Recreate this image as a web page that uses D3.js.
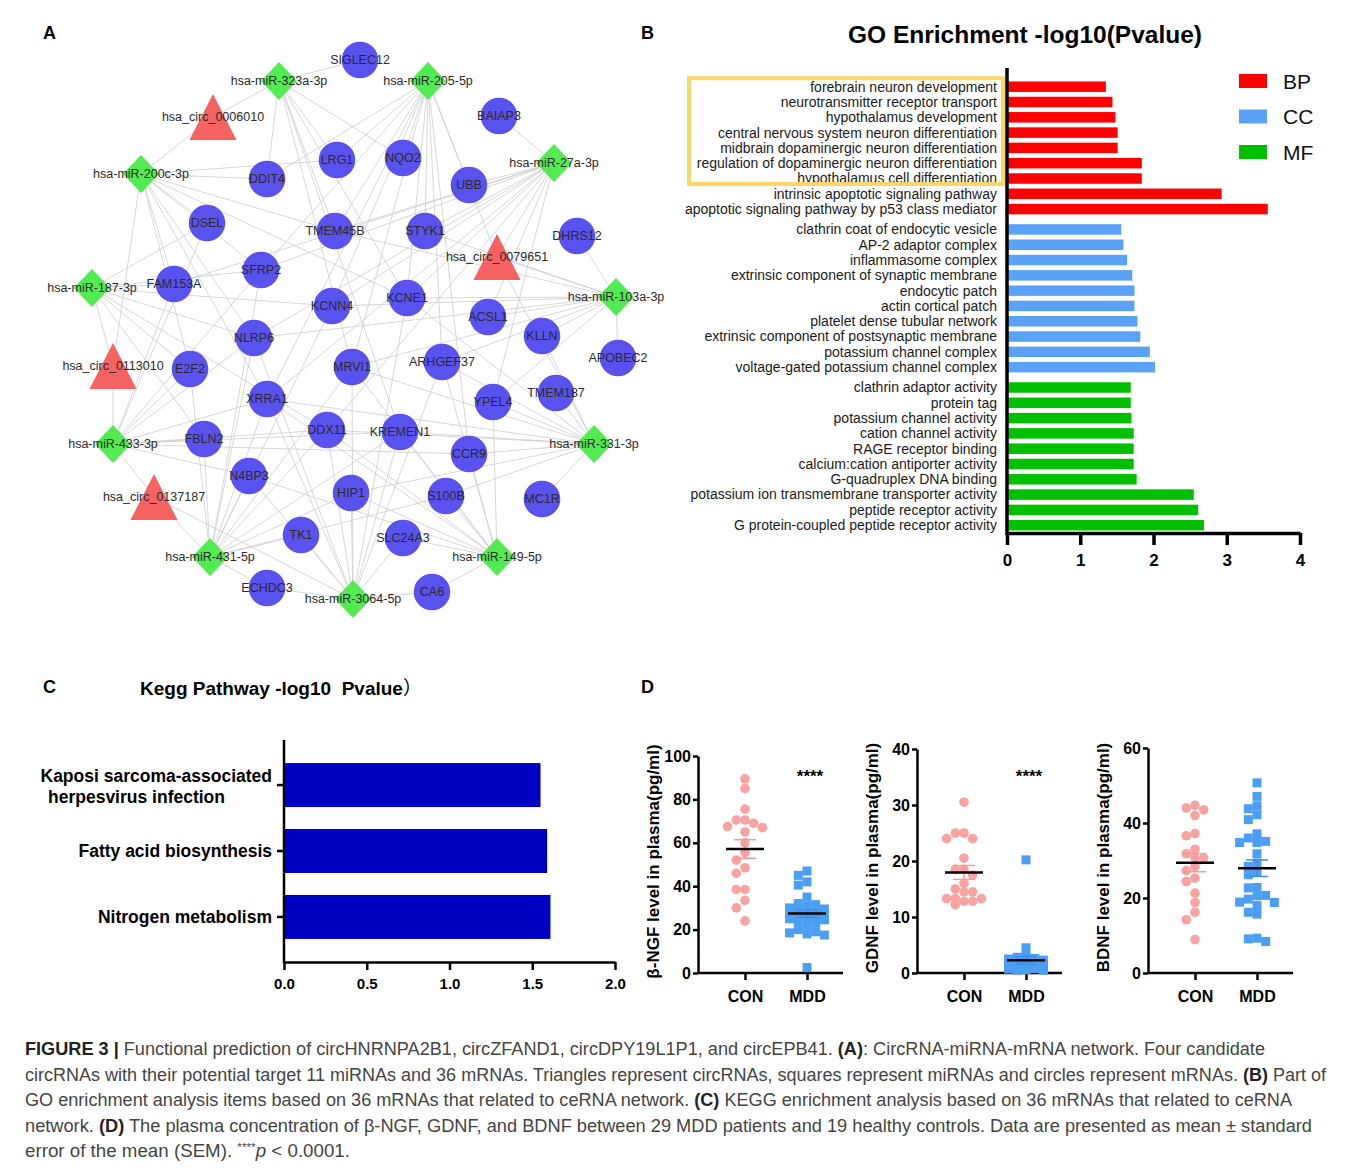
<!DOCTYPE html>
<html>
<head>
<meta charset="utf-8">
<script src="https://cdn.jsdelivr.net/npm/d3@7"></script>
<style>
  body { margin: 0; background: #fff; }
  svg { display: block; font-family: "Liberation Sans", Arial, sans-serif; }
  .axis path, .axis line { stroke: #000; }
</style>
</head>
<body>
<div id="fig"></div>
<script>
// ---------- panel A : ceRNA network ----------
const circNames = ['hsa_circ_0006010', 'hsa_circ_0079651', 'hsa_circ_0113010', 'hsa_circ_0137187'];
const mirnaNames = ['hsa-miR-323a-3p', 'hsa-miR-205-5p', 'hsa-miR-27a-3p', 'hsa-miR-200c-3p', 'hsa-miR-187-3p',
  'hsa-miR-103a-3p', 'hsa-miR-433-3p', 'hsa-miR-331-3p', 'hsa-miR-431-5p', 'hsa-miR-149-5p', 'hsa-miR-3064-5p'];
const mrnaNames = ['SIGLEC12', 'BAIAP3', 'LRG1', 'NQO2', 'DDIT4', 'UBB', 'DSEL', 'TMEM45B', 'STYK1', 'DHRS12',
  'SFRP2', 'FAM153A', 'KCNN4', 'KCNE1', 'ACSL1', 'KLLN', 'NLRP6', 'APOBEC2', 'E2F2', 'MRVI1', 'ARHGEF37',
  'XRRA1', 'YPEL4', 'TMEM187', 'DDX11', 'KREMEN1', 'FBLN2', 'CCR9', 'N4BP3', 'HIP1', 'S100B', 'MC1R',
  'TK1', 'SLC24A3', 'ECHDC3', 'CA6'];

// miRNA -> targets (mRNAs and circRNAs)
const miRTargets = {
  'hsa-miR-323a-3p': ['SIGLEC12', 'LRG1', 'TMEM45B', 'DDIT4', 'KCNE1', 'MRVI1', 'NQO2', 'KREMEN1', 'hsa_circ_0006010'],
  'hsa-miR-205-5p': ['LRG1', 'NQO2', 'UBB', 'STYK1', 'TMEM45B', 'KCNE1', 'KCNN4', 'SFRP2', 'DDIT4', 'MRVI1', 'ARHGEF37', 'CCR9', 'XRRA1', 'hsa_circ_0079651'],
  'hsa-miR-27a-3p': ['BAIAP3', 'UBB', 'STYK1', 'TMEM45B', 'KCNE1', 'KCNN4', 'SFRP2', 'FAM153A', 'ACSL1', 'YPEL4', 'NLRP6', 'DDX11', 'XRRA1', 'hsa_circ_0079651'],
  'hsa-miR-200c-3p': ['DDIT4', 'LRG1', 'DSEL', 'FAM153A', 'SFRP2', 'TMEM45B', 'NLRP6', 'E2F2', 'XRRA1', 'KCNE1', 'hsa_circ_0006010', 'hsa_circ_0113010'],
  'hsa-miR-187-3p': ['FAM153A', 'DSEL', 'SFRP2', 'NLRP6', 'E2F2', 'FBLN2', 'KCNN4', 'DDX11', 'hsa_circ_0113010'],
  'hsa-miR-103a-3p': ['DHRS12', 'APOBEC2', 'ACSL1', 'KLLN', 'KCNE1', 'ARHGEF37', 'YPEL4', 'MRVI1', 'KCNN4', 'TMEM45B', 'STYK1', 'NLRP6', 'hsa_circ_0079651'],
  'hsa-miR-433-3p': ['E2F2', 'FBLN2', 'NLRP6', 'SFRP2', 'FAM153A', 'DSEL', 'DDX11', 'KREMEN1', 'CCR9', 'XRRA1', 'N4BP3', 'hsa_circ_0113010', 'hsa_circ_0137187'],
  'hsa-miR-331-3p': ['TMEM187', 'YPEL4', 'KLLN', 'ARHGEF37', 'CCR9', 'KREMEN1', 'DDX11', 'MC1R', 'MRVI1', 'XRRA1', 'HIP1', 'S100B', 'KCNE1', 'hsa_circ_0079651'],
  'hsa-miR-431-5p': ['N4BP3', 'FBLN2', 'XRRA1', 'E2F2', 'NLRP6', 'TK1', 'ECHDC3', 'HIP1', 'MRVI1', 'DDX11', 'KCNN4', 'SFRP2', 'S100B', 'KREMEN1', 'hsa_circ_0137187'],
  'hsa-miR-149-5p': ['CCR9', 'S100B', 'KREMEN1', 'SLC24A3', 'CA6', 'ARHGEF37', 'MRVI1', 'DDX11', 'N4BP3', 'XRRA1', 'HIP1', 'YPEL4'],
  'hsa-miR-3064-5p': ['HIP1', 'SLC24A3', 'CA6', 'TK1', 'DDX11', 'KREMEN1', 'XRRA1', 'NLRP6', 'ECHDC3', 'MRVI1', 'ARHGEF37', 'KCNE1', 'N4BP3', 'hsa_circ_0137187']
};

// node layout exported from the network tool (layout units)
const nodeLayout = {
  'hsa_circ_0006010': [183, 87], 'hsa_circ_0079651': [467, 227], 'hsa_circ_0113010': [83, 336], 'hsa_circ_0137187': [124, 467],
  'hsa-miR-323a-3p': [249, 51], 'hsa-miR-205-5p': [398, 51], 'hsa-miR-27a-3p': [524, 133], 'hsa-miR-200c-3p': [111, 144],
  'hsa-miR-187-3p': [62, 258], 'hsa-miR-103a-3p': [586, 267], 'hsa-miR-433-3p': [83, 414], 'hsa-miR-331-3p': [564, 414],
  'hsa-miR-431-5p': [180, 527], 'hsa-miR-149-5p': [467, 527], 'hsa-miR-3064-5p': [323, 569],
  'SIGLEC12': [330, 30], 'BAIAP3': [469, 86], 'LRG1': [307, 130], 'NQO2': [373, 128], 'DDIT4': [237, 149],
  'UBB': [439, 155], 'DSEL': [177, 193], 'TMEM45B': [305, 201], 'STYK1': [395, 201], 'DHRS12': [547, 206],
  'SFRP2': [231, 240], 'FAM153A': [144, 254], 'KCNN4': [302, 276], 'KCNE1': [377, 268], 'ACSL1': [458, 287],
  'KLLN': [512, 306], 'NLRP6': [224, 308], 'APOBEC2': [588, 328], 'E2F2': [160, 339], 'MRVI1': [322, 337],
  'ARHGEF37': [412, 332], 'XRRA1': [237, 369], 'YPEL4': [463, 372], 'TMEM187': [526, 363], 'DDX11': [297, 400],
  'KREMEN1': [370, 402], 'FBLN2': [174, 409], 'CCR9': [439, 424], 'N4BP3': [219, 446], 'HIP1': [321, 463],
  'S100B': [416, 466], 'MC1R': [512, 469], 'TK1': [271, 505], 'SLC24A3': [373, 508], 'ECHDC3': [237, 558],
  'CA6': [402, 562]
};

// ---------- panel B : GO enrichment ----------
const goBP = ['forebrain neuron development', 'neurotransmitter receptor transport', 'hypothalamus development',
  'central nervous system neuron differentiation', 'midbrain dopaminergic neuron differentiation',
  'regulation of dopaminergic neuron differentiation', 'hypothalamus cell differentiation',
  'intrinsic apoptotic signaling pathway', 'apoptotic signaling pathway by p53 class mediator'];
const goBPValues = [1.35, 1.44, 1.48, 1.51, 1.51, 1.84, 1.84, 2.93, 3.56];
const goCC = ['clathrin coat of endocytic vesicle', 'AP-2 adaptor complex', 'inflammasome complex',
  'extrinsic component of synaptic membrane', 'endocytic patch', 'actin cortical patch',
  'platelet dense tubular network', 'extrinsic component of postsynaptic membrane',
  'potassium channel complex', 'voltage-gated potassium channel complex'];
const goCCValues = [1.56, 1.59, 1.64, 1.71, 1.74, 1.74, 1.78, 1.82, 1.95, 2.02];
const goMF = ['clathrin adaptor activity', 'protein tag', 'potassium channel activity', 'cation channel activity',
  'RAGE receptor binding', 'calcium:cation antiporter activity', 'G-quadruplex DNA binding',
  'potassium ion transmembrane transporter activity', 'peptide receptor activity',
  'G protein-coupled peptide receptor activity'];
const goMFValues = [1.69, 1.69, 1.70, 1.73, 1.73, 1.73, 1.77, 2.55, 2.61, 2.69];
const goGroups = ['BP', 'CC', 'MF'];
const goTicks = [0, 1, 2, 3, 4];

// ---------- panel C : KEGG ----------
const keggTerms = ['Kaposi sarcoma-associated herpesvirus infection', 'Fatty acid biosynthesis', 'Nitrogen metabolism'];
const keggValues = [1.55, 1.59, 1.61];
const keggTicks = [0, 0.5, 1.0, 1.5, 2.0];

// ---------- panel D : plasma levels ----------
const groups = ['CON', 'MDD'];
const ngfCON = [89.5, 85, 75.5, 70.5, 70.5, 69, 67.5, 67, 65, 60, 55.5, 52, 48.5, 46, 38.5, 38.5, 33.5, 30, 24];
const ngfMDD = [47, 45, 42, 40.5, 35, 32, 31.5, 31, 30, 29.5, 29, 28.5, 28, 27.5, 27, 26.5, 26, 25.5, 25, 24.5,
  24, 23, 22, 20, 19, 18.5, 18, 17.5, 2.5];
const gdnfCON = [30.5, 25, 25, 24, 24, 20.5, 18.5, 18.5, 17.5, 16, 15, 14.5, 14.5, 13.3, 13.3, 13.3, 12.8, 12.8, 12.2];
const gdnfMDD = [20.2, 4.5, 3, 2.8, 2.6, 2.5, 2.3, 2.2, 2, 2, 1.9, 1.8, 1.7, 1.6, 1.5, 1.5, 1.4, 1.3, 1.2, 1.2,
  1.1, 1, 1, 0.9, 0.8, 0.7, 0.6, 0.5, 0.5];
const bdnfCON = [44.7, 44, 43.5, 42, 37.2, 36.6, 33, 31.8, 30.7, 30.7, 28.4, 27.3, 25.3, 24.4, 21.3, 18.8, 16.2, 14.2, 8.9];
const bdnfMDD = [50.7, 47.1, 44.6, 43.8, 42.2, 40.9, 37.1, 36, 35.1, 34.8, 34.8, 31.8, 29.3, 28.4, 26.8, 26.2, 22.8,
  22.7, 20.7, 20.6, 19.7, 18.9, 18.8, 18, 16.2, 15.7, 9.3, 9.1, 8.4];

const svg = d3.select('#fig').append('svg').attr('width', 1357).attr('height', 1170);

function panelLabel(t, x, y) {
  svg.append('text').attr('x', x).attr('y', y).attr('font-size', 18).attr('font-weight', 'bold').text(t);
}
panelLabel('A', 43, 39);
panelLabel('B', 641, 39);
panelLabel('C', 43, 693);
panelLabel('D', 641, 693);

// ===== A =====
const xNet = d3.scaleLinear().domain([0, 620]).range([30, 650]);
const yNet = d3.scaleLinear().domain([0, 600]).range([30, 630]);
const kind = {};
circNames.forEach(n => kind[n] = 'circ');
mirnaNames.forEach(n => kind[n] = 'mir');
mrnaNames.forEach(n => kind[n] = 'mrna');
const nodes = [...mrnaNames, ...mirnaNames, ...circNames].map(n => ({
  name: n, type: kind[n], x: xNet(nodeLayout[n][0]), y: yNet(nodeLayout[n][1])
}));
const byName = new Map(nodes.map(d => [d.name, d]));
const edges = [];
Object.entries(miRTargets).forEach(([m, ts]) => ts.forEach(t => edges.push({ s: byName.get(m), t: byName.get(t) })));

const gA = svg.append('g');
gA.selectAll('line.edge').data(edges).join('line')
  .attr('x1', d => d.s.x).attr('y1', d => d.s.y)
  .attr('x2', d => d.t.x).attr('y2', d => d.t.y)
  .attr('stroke', '#cdcdcd').attr('stroke-width', 0.8);

const nodeG = gA.selectAll('g.node').data(nodes).join('g')
  .attr('transform', d => `translate(${d.x},${d.y})`);
nodeG.filter(d => d.type === 'mrna').append('circle').attr('r', 18.3).attr('fill', '#5a52ef');
nodeG.filter(d => d.type === 'mir').append('path').attr('d', 'M0,-19L18,0L0,19L-18,0Z').attr('fill', '#52ec52');
nodeG.filter(d => d.type === 'circ').append('path').attr('d', 'M0,-23L23.5,23L-23.5,23Z').attr('fill', '#f46262');
nodeG.append('text')
  .attr('text-anchor', 'middle').attr('dy', '0.35em')
  .attr('font-size', 12.5).attr('fill', '#2a2a2a')
  .text(d => d.name);

// ===== B =====
svg.append('text').attr('x', 1025).attr('y', 43).attr('text-anchor', 'middle')
  .attr('font-size', 24.5).attr('font-weight', 'bold').text('GO Enrichment -log10(Pvalue)');

const goColor = d3.scaleOrdinal().domain(goGroups).range(['#ff0000', '#5aa2f8', '#00c000']);
const goRows = [];
[[goBP, goBPValues], [goCC, goCCValues], [goMF, goMFValues]].forEach(([labs, vals], gi) => {
  labs.forEach((l, i) => goRows.push({ label: l, value: vals[i], group: goGroups[gi], slot: goRows.length + gi * 0.33 }));
});
const xGo = d3.scaleLinear().domain([0, 4]).range([1007, 1300]);
const yGo = d3.scaleLinear().domain([0, 1]).range([86.7, 102]);
const barH = 10.5;

svg.append('clipPath').attr('id', 'goclip').append('rect').attr('x', 678).attr('y', 0).attr('width', 400).attr('height', 600);
const gB = svg.append('g');
gB.selectAll('rect.bar').data(goRows).join('rect')
  .attr('x', xGo(0)).attr('y', d => yGo(d.slot) - barH / 2)
  .attr('width', d => xGo(d.value) - xGo(0)).attr('height', barH)
  .attr('fill', d => goColor(d.group));
gB.append('g').attr('clip-path', 'url(#goclip)')
  .selectAll('text').data(goRows).join('text')
  .attr('x', 997).attr('y', d => yGo(d.slot)).attr('dy', '0.35em')
  .attr('text-anchor', 'end').attr('font-size', 14).attr('fill', '#1a1a1a')
  .text(d => d.label);

const xAxisGo = gB.append('g').attr('class', 'axis').attr('transform', 'translate(0,533)')
  .call(d3.axisBottom(xGo).tickValues(goTicks).tickSize(12).tickSizeOuter(0).tickFormat(d3.format('d')));
xAxisGo.selectAll('path,line').attr('stroke-width', 3.5);
xAxisGo.selectAll('text').attr('font-size', 17).attr('font-weight', 'bold').attr('fill', '#000').attr('dy', '1.05em');
gB.append('line').attr('x1', xGo(0)).attr('x2', xGo(0)).attr('y1', 68).attr('y2', 535)
  .attr('stroke', '#000').attr('stroke-width', 3.5);

// highlight box around the neuron-related terms
gB.append('rect')
  .attr('x', 689).attr('y', yGo(0) - 8.5)
  .attr('width', xGo(0) - 4 - 689).attr('height', yGo(6) - yGo(0) + 14)
  .attr('fill', 'none').attr('stroke', '#fbd669').attr('stroke-width', 4);

const legB = gB.selectAll('g.leg').data(goGroups).join('g')
  .attr('transform', (d, i) => `translate(1239,${81 + i * 35.5})`);
legB.append('rect').attr('x', 0).attr('y', -7).attr('width', 28).attr('height', 14).attr('fill', d => goColor(d));
legB.append('text').attr('x', 44).attr('dy', '0.36em').attr('font-size', 21).attr('fill', '#111').text(d => d);

// ===== C =====
const keggTitle = svg.append('text').attr('x', 140).attr('y', 695).attr('font-size', 19).attr('font-weight', 'bold')
  .style('white-space', 'pre');
keggTitle.append('tspan').text('Kegg Pathway -log10  Pvalue');
keggTitle.append('tspan').attr('font-family', '"Noto Sans CJK SC", sans-serif').attr('font-weight', 'normal').text('\uFF09');
const xKegg = d3.scaleLinear().domain([0, 2]).range([284, 615]);
const yKegg = d3.scaleBand().domain(keggTerms).range([740, 962]).paddingInner(0.333).paddingOuter(0.35);
const gC = svg.append('g');
gC.selectAll('rect').data(keggTerms).join('rect')
  .attr('x', xKegg(0)).attr('y', d => yKegg(d))
  .attr('width', (d, i) => xKegg(keggValues[i]) - xKegg(0)).attr('height', yKegg.bandwidth())
  .attr('fill', '#0000c2');
const xAxC = gC.append('g').attr('class', 'axis').attr('transform', 'translate(0,962)')
  .call(d3.axisBottom(xKegg).tickValues(keggTicks).tickSize(8).tickSizeOuter(0).tickFormat(d3.format('.1f')));
xAxC.selectAll('path,line').attr('stroke-width', 2.5);
xAxC.selectAll('text').attr('font-size', 15).attr('font-weight', 'bold').attr('fill', '#000').attr('dy', '1.05em');
const yAxC = gC.append('g').attr('class', 'axis').attr('transform', `translate(${xKegg(0)},0)`)
  .call(d3.axisLeft(yKegg).tickSize(7).tickSizeOuter(0).tickFormat(''));
yAxC.select('.domain').attr('d', `M0,740V963`);
yAxC.selectAll('path,line').attr('stroke-width', 2.5);
keggTerms.forEach((t, i) => {
  const yc = yKegg(t) + yKegg.bandwidth() / 2;
  if (i === 0) {
    gC.append('text').attr('x', 272).attr('y', yc - 9).attr('dy', '0.35em').attr('text-anchor', 'end')
      .attr('font-size', 17.5).attr('font-weight', 'bold').text('Kaposi sarcoma-associated');
    gC.append('text').attr('x', 48).attr('y', yc + 12).attr('dy', '0.35em')
      .attr('font-size', 17.5).attr('font-weight', 'bold').text('herpesvirus infection');
  } else {
    gC.append('text').attr('x', 272).attr('y', yc).attr('dy', '0.35em').attr('text-anchor', 'end')
      .attr('font-size', 17.5).attr('font-weight', 'bold').text(t);
  }
});

// ===== D =====
// simple column swarm: tries offsets 0, -s, +s, -2s ... within maxOff, overlaps when crowded
function swarm(values, y, step, minDist, maxOff) {
  const placed = [];
  const off = new Array(values.length);
  const cands = [0];
  for (let k = 1; k * step <= maxOff + 0.01; k++) cands.push(-k * step, k * step);
  d3.range(values.length).sort((a, b) => values[b] - values[a]).forEach(i => {
    const py = y(values[i]);
    let best = 0, bestD = -1;
    for (const dx of cands) {
      const dmin = placed.length ? d3.min(placed, p => Math.hypot(p[0] - dx, p[1] - py)) : Infinity;
      if (dmin >= minDist) { best = dx; bestD = Infinity; break; }
      if (dmin > bestD + 0.5) { best = dx; bestD = dmin; }
    }
    off[i] = best;
    placed.push([best, py]);
  });
  return off;
}

const groupColor = d3.scaleOrdinal().domain(groups).range(['#f8a2a2', '#4c9ef3']);

function dotPlot(axisX, yMax, yTop, ticks, label, con, mdd, stars, spread) {
  const g = svg.append('g');
  const y = d3.scaleLinear().domain([0, yMax]).range([973, yTop]);
  const x = d3.scalePoint().domain(groups).range([axisX + 47, axisX + 109]);
  const yAx = g.append('g').attr('class', 'axis').attr('transform', `translate(${axisX},0)`)
    .call(d3.axisLeft(y).tickValues(ticks).tickSize(5).tickSizeOuter(0));
  const xAx = g.append('g').attr('class', 'axis').attr('transform', 'translate(0,973)')
    .call(d3.axisBottom(x).tickSize(7).tickSizeOuter(0));
  xAx.select('.domain').attr('d', `M${axisX},0H${axisX + 145}`);
  [yAx, xAx].forEach(a => {
    a.selectAll('path,line').attr('stroke-width', 2.5);
    a.selectAll('text').attr('font-size', 16).attr('font-weight', 'bold').attr('fill', '#000');
  });
  xAx.selectAll('text').attr('dy', '1.2em');
  yAx.selectAll('text').attr('x', -7);

  g.append('text').attr('transform', `translate(${axisX - 39},${(973 + yTop) / 2 - 3}) rotate(-90)`)
    .attr('text-anchor', 'middle').attr('font-size', 17).attr('font-weight', 'bold').text(label);

  [[groups[0], con], [groups[1], mdd]].forEach(([grp, vals], gi) => {
    const cx = x(grp);
    const off = swarm(vals, y, 8.7, 8.2, spread[gi]);
    const pts = g.append('g');
    if (grp === 'CON') {
      pts.selectAll('circle').data(vals).join('circle')
        .attr('cx', (d, i) => cx + off[i]).attr('cy', d => y(d)).attr('r', 4.8)
        .attr('fill', groupColor(grp));
    } else {
      pts.selectAll('rect').data(vals).join('rect')
        .attr('x', (d, i) => cx + off[i] - 4.5).attr('y', d => y(d) - 4.5)
        .attr('width', 9).attr('height', 9).attr('fill', groupColor(grp));
    }
    const m = d3.mean(vals);
    const sem = d3.deviation(vals) / Math.sqrt(vals.length);
    const c = grp === 'CON' ? '#f29a9a' : '#3d8fe8';
    g.append('line').attr('x1', cx).attr('x2', cx).attr('y1', y(m - sem)).attr('y2', y(m + sem))
      .attr('stroke', c).attr('stroke-width', 1.5);
    [m - sem, m + sem].forEach(v => g.append('line').attr('x1', cx - 11).attr('x2', cx + 11)
      .attr('y1', y(v)).attr('y2', y(v)).attr('stroke', c).attr('stroke-width', 1.5));
    g.append('line').attr('x1', cx - 19).attr('x2', cx + 19).attr('y1', y(m)).attr('y2', y(m))
      .attr('stroke', '#000').attr('stroke-width', 2.5);
  });
  if (stars) {
    g.append('text').attr('x', x('MDD') + 3).attr('y', 782).attr('text-anchor', 'middle')
      .attr('font-size', 17).attr('font-weight', 'bold').text('****');
  }
}

dotPlot(698, 100, 756, [0, 20, 40, 60, 80, 100], '\u03B2-NGF level in plasma(pg/ml)', ngfCON, ngfMDD, true, [18, 18]);
dotPlot(917, 40, 749, [0, 10, 20, 30, 40], 'GDNF level in plasma(pg/ml)', gdnfCON, gdnfMDD, true, [18, 21]);
dotPlot(1148, 60, 748, [0, 20, 40, 60], 'BDNF level in plasma(pg/ml)', bdnfCON, bdnfMDD, false, [18, 27]);

// ===== caption =====
const cap = svg.append('g').attr('font-family', '"Liberation Sans Narrow", "Liberation Sans", sans-serif')
  .attr('font-size', 17.5).attr('fill', '#444');
const capLines = [
  { w: 1240, parts: [['FIGURE 3 |', 1], [' Functional prediction of circHNRNPA2B1, circZFAND1, circDPY19L1P1, and circEPB41. ', 0], ['(A)', 1], [': CircRNA-miRNA-mRNA network. Four candidate', 0]] },
  { w: 1301, parts: [['circRNAs with their potential target 11 miRNAs and 36 mRNAs. Triangles represent circRNAs, squares represent miRNAs and circles represent mRNAs. ', 0], ['(B)', 1], [' Part of', 0]] },
  { w: 1267, parts: [['GO enrichment analysis items based on 36 mRNAs that related to ceRNA network. ', 0], ['(C)', 1], [' KEGG enrichment analysis based on 36 mRNAs that related to ceRNA', 0]] },
  { w: 1287, parts: [['network. ', 0], ['(D)', 1], [' The plasma concentration of \u03B2-NGF, GDNF, and BDNF between 29 MDD patients and 19 healthy controls. Data are presented as mean \u00B1 standard', 0]] }
];
capLines.forEach((ln, i) => {
  const t = cap.append('text').attr('x', 25).attr('y', 1055 + i * 25.5)
    .attr('textLength', ln.w).attr('lengthAdjust', 'spacingAndGlyphs').style('white-space', 'pre');
  ln.parts.forEach(p => t.append('tspan').attr('font-weight', p[1] ? 'bold' : null).attr('fill', p[1] ? '#222' : null).text(p[0]));
});
const last = cap.append('text').attr('x', 25).attr('y', 1157).style('white-space', 'pre')
  .attr('textLength', 325).attr('lengthAdjust', 'spacingAndGlyphs');
last.append('tspan').text('error of the mean (SEM). ');
last.append('tspan').attr('font-size', 11).attr('dy', -6).text('****');
last.append('tspan').attr('font-style', 'italic').attr('dy', 6).text('p');
last.append('tspan').text(' < 0.0001.');
</script>
</body>
</html>
